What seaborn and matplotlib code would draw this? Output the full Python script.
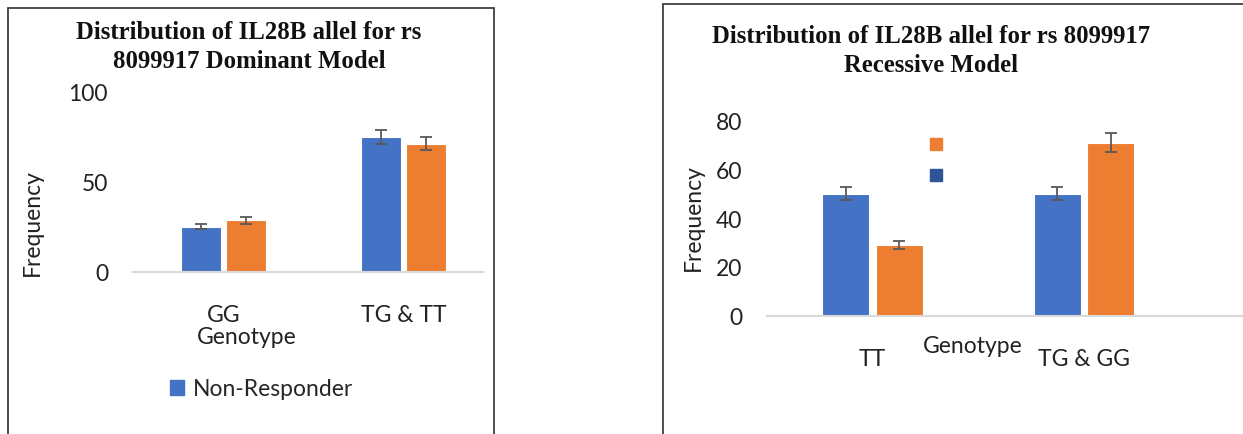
import matplotlib
matplotlib.use("Agg")
import matplotlib.pyplot as plt
import seaborn as sns
import pandas as pd
from matplotlib.patches import Rectangle, Patch

# ---- data ----
groups = ["Non-Responder", "Responder"]

dom_genotypes = ["GG", "TG & TT"]
dom_nonresp = [25, 75]
dom_resp = [28.5, 71]
dom_nonresp_err = [1.5, 4]
dom_resp_err = [2, 3.6]

rec_genotypes = ["TT", "TG & GG"]
rec_nonresp = [50, 50]
rec_resp = [29, 71]
rec_nonresp_err = [2.6, 2.6]
rec_resp_err = [1.5, 3.9]

BLUE = "#4472C4"
ORANGE = "#ED7D31"
W, H = 1243, 435

sns.set_theme(style="white")
plt.rcParams["font.family"] = ["Lato", "DejaVu Sans"]

fig = plt.figure(figsize=(W / 100, H / 100), dpi=100)


def px_axes(l, t, r, b):
    return fig.add_axes([l / W, 1 - b / H, (r - l) / W, (b - t) / H])


def fx(x):
    return x / W


def fy(y):
    return 1 - y / H


def draw_panel(ax, genotypes, nonresp, resp, nonresp_err, resp_err, ymax, step, xlim):
    df = pd.DataFrame({
        "Genotype": genotypes * 2,
        "Group": [groups[0]] * len(genotypes) + [groups[1]] * len(genotypes),
        "Frequency": nonresp + resp,
    })
    sns.barplot(data=df, x="Genotype", y="Frequency", hue="Group",
                palette=[BLUE, ORANGE], saturation=1, errorbar=None,
                width=0.506, gap=0.12, legend=False, ax=ax,
                linewidth=0.8, edgecolor="white")
    for cont, errs in zip(ax.containers, [nonresp_err, resp_err]):
        xs = [b.get_x() + b.get_width() / 2 for b in cont]
        hs = [b.get_height() for b in cont]
        ax.errorbar(xs, hs, yerr=errs, fmt="none", ecolor="#595959",
                    elinewidth=1.3, capsize=4.5, capthick=1.3)
    ax.set_ylim(0, ymax)
    ax.set_xlim(*xlim)
    ax.set_yticks(range(0, ymax + 1, step))
    ax.set_xlabel("")
    ax.set_ylabel("")
    for s in ["top", "right", "left"]:
        ax.spines[s].set_visible(False)
    ax.spines["bottom"].set_color("#D9D9D9")
    ax.spines["bottom"].set_linewidth(1.5)
    ax.tick_params(axis="both", length=0, labelsize=16.5, colors="#222222")
    ax.tick_params(axis="x", pad=23)
    ax.tick_params(axis="y", pad=18)
    ax.patch.set_alpha(0)


# left: dominant model
ax1 = px_axes(133, 92.7, 483, 272.7)
draw_panel(ax1, dom_genotypes, dom_nonresp, dom_resp, dom_nonresp_err, dom_resp_err,
           100, 50, (-0.503, 1.442))

# right: recessive model
ax2 = px_axes(767, 121.7, 1243, 316.7)
draw_panel(ax2, rec_genotypes, rec_nonresp, rec_resp, rec_nonresp_err, rec_resp_err,
           80, 20, (-0.5, 1.752))

# frames around each panel
fig.patches.append(Rectangle((fx(8), fy(445)), fx(494 - 8), (445 - 9) / H,
                             transform=fig.transFigure, fill=False,
                             edgecolor="#404040", linewidth=1.3))
fig.patches.append(Rectangle((fx(663), fy(445)), fx(1260 - 663), (445 - 5) / H,
                             transform=fig.transFigure, fill=False,
                             edgecolor="#404040", linewidth=1.3))

# titles
title_font = dict(family=["Liberation Serif", "DejaVu Serif"], weight="bold",
                  fontsize=17.8, color="#111111", ha="center", va="center",
                  linespacing=1.3)
fig.text(fx(249), fy(47), "Distribution of IL28B allel for rs\n8099917 Dominant Model",
         **title_font)
fig.text(fx(931), fy(51), "Distribution of IL28B allel for rs 8099917\nRecessive Model",
         **title_font)

# axis labels
lab = dict(fontsize=16.5, color="#222222", ha="center", va="center")
fig.text(fx(32), fy(223), "Frequency", rotation=90, **lab)
fig.text(fx(693), fy(218), "Frequency", rotation=90, **lab)
fig.text(fx(247), fy(338), "Genotype", **lab)
fig.text(fx(973), fy(347), "Genotype", **lab)

# legends
fig.legend(handles=[Patch(color=BLUE)], labels=["Non-Responder"],
           loc="center", bbox_to_anchor=(fx(262), fy(390)), frameon=False,
           fontsize=16.5, handlelength=0.6, handleheight=0.6, handletextpad=0.4)
fig.legend(handles=[Patch(color=ORANGE), Patch(color="#2F5597")], labels=["", ""],
           loc="center", bbox_to_anchor=(fx(936), fy(161)), frameon=False,
           fontsize=12, handlelength=0.7, handleheight=0.7, handletextpad=0,
           labelspacing=0.9, borderpad=0)

fig.savefig("out.png", dpi=100)
